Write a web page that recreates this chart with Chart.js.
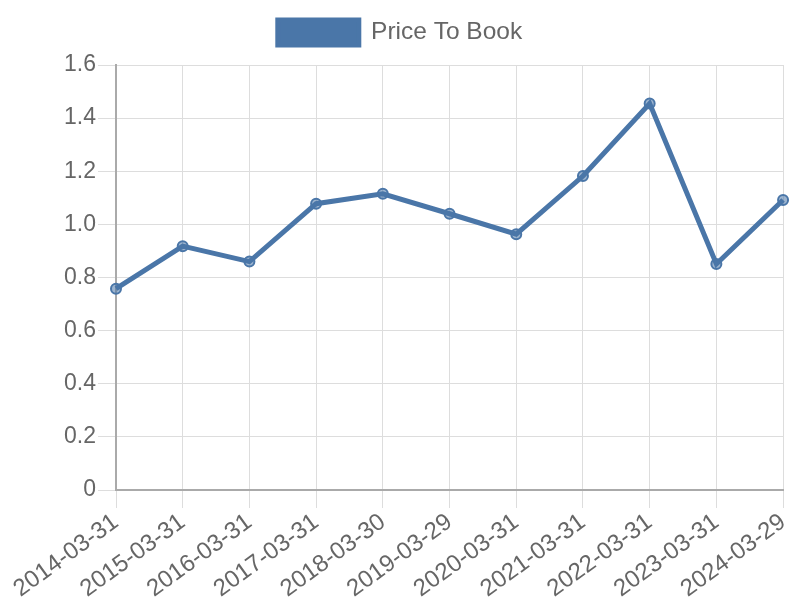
<!DOCTYPE html>
<html>
<head>
<meta charset="utf-8">
<script src="https://cdn.jsdelivr.net/npm/chart.js@4"></script>
<style>
body{margin:0;background:#fff;}
#wrap{width:800px;height:600px;}
</style>
</head>
<body>
<div id="wrap"><canvas id="c"></canvas></div>
<script>
// data
const dates=["2014-03-31","2015-03-31","2016-03-31","2017-03-31","2018-03-30","2019-03-29","2020-03-31","2021-03-31","2022-03-31","2023-03-31","2024-03-29"];
const ptb=[0.758,0.918,0.860,1.078,1.115,1.040,0.963,1.182,1.455,0.851,1.092];
const yTicks=[0,0.2,0.4,0.6,0.8,1.0,1.2,1.4,1.6];

Chart.defaults.font.family="'Liberation Sans', Arial, sans-serif";
Chart.defaults.color="#666";

/* extra room under legend */
const legendGap={
id:"legendGap",
beforeInit(chart){
const f=chart.legend.fit;
chart.legend.fit=function(){f.bind(chart.legend)();this.height+=10;};
}
};

new Chart(document.getElementById("c"),{
type:"line",
data:{
labels:dates,
datasets:[{
label:"Price To Book",
data:ptb,
borderColor:"#4a76a8",
backgroundColor:"#4a76a8",
pointBackgroundColor:"rgba(74,118,168,0.55)",
pointBorderColor:"#4a76a8",
pointRadius:5,
pointBorderWidth:2,
borderWidth:5,
tension:0,
fill:false
}]
},
options:{
responsive:true,
maintainAspectRatio:false,
animation:false,
layout:{padding:{top:10,right:16,left:16,bottom:0}},
plugins:{
legend:{
labels:{boxWidth:81,boxHeight:25,font:{size:24.5},padding:10}
},
tooltip:{enabled:false}
},
scales:{
x:{
afterFit:ax=>{ax.height=110;},
grid:{color:"#ddd",lineWidth:1,tickLength:18},
border:{color:"#aaa",width:2},
ticks:{font:{size:24},maxRotation:36,minRotation:36,autoSkip:false,padding:0}
},
y:{
min:0,max:1.6,
afterBuildTicks:ax=>{ax.ticks=yTicks.map(v=>({value:v}));},
afterFit:ax=>{ax.width=100;},
grid:{color:"#ddd",lineWidth:1,tickLength:18},
border:{color:"#aaa",width:2},
ticks:{font:{size:23},padding:2,callback:v=>v===0?"0":v.toFixed(1)}
}
}
},
plugins:[legendGap]
});
</script>
</body>
</html>
